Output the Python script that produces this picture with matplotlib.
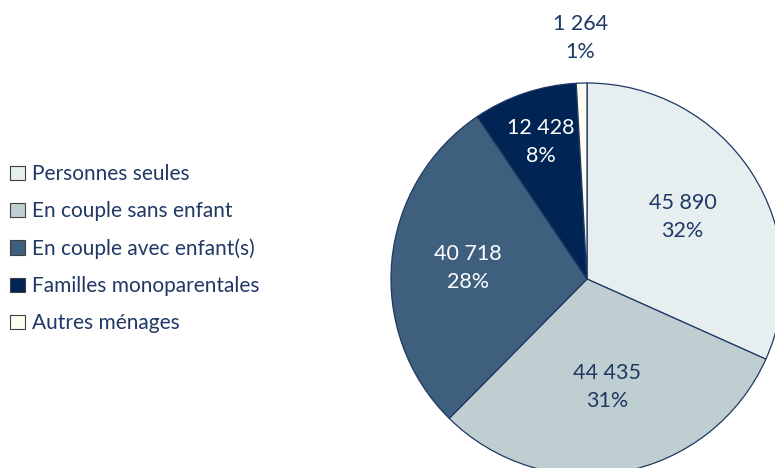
import numpy as np
import matplotlib
matplotlib.use("Agg")
from matplotlib import pyplot as plt

categories = ["Personnes seules", "En couple sans enfant", "En couple avec enfant(s)",
              "Familles monoparentales", "Autres ménages"]
values = [45890, 44435, 40718, 12428, 1264]
percent_labels = ["32%", "31%", "28%", "8%", "1%"]

colors = ["#E7EEEF", "#BFCFD1", "#3F5F7F", "#002454", "#FFFDF0"]
text_colors = ["#1F3864", "#1F3864", "white", "white", "#1F3864"]
label_dist = [0.58, 0.56, 0.61, 0.74, 1.23]
navy = "#1F3864"

plt.rcParams["font.family"] = ["Lato", "DejaVu Sans"]

fig = plt.figure(figsize=(7.75, 4.68), dpi=100)
ax = fig.add_axes([0, 0, 1, 1])

cx, cy, r = 587, 468 - 279, 196
wedges, _ = ax.pie(values, colors=colors, startangle=90, counterclock=False,
                   center=(cx, cy), radius=r, frame=True,
                   wedgeprops=dict(edgecolor=navy, linewidth=0.9))
ax.set_xlim(0, 775)
ax.set_ylim(0, 468)
ax.set_aspect("equal")
ax.axis("off")

for w, v, p, tc, d in zip(wedges, values, percent_labels, text_colors, label_dist):
    ang = np.deg2rad((w.theta1 + w.theta2) / 2)
    x = cx + d * r * np.cos(ang)
    y = cy + d * r * np.sin(ang)
    txt = f"{v:,}".replace(",", " ") + "\n" + p
    ax.text(x, y, txt, ha="center", va="center", color=tc, fontsize=15.5,
            linespacing=1.5)

leg = ax.legend(wedges, categories, loc="upper left", bbox_to_anchor=(-0.011, 0.689),
                frameon=False, fontsize=15, handlelength=0.7, handleheight=0.7,
                handletextpad=0.35, labelspacing=0.82, labelcolor=navy)
for h in leg.legend_handles:
    h.set_edgecolor("#404040")
    h.set_linewidth(0.8)

fig.savefig("out.png", dpi=100)
